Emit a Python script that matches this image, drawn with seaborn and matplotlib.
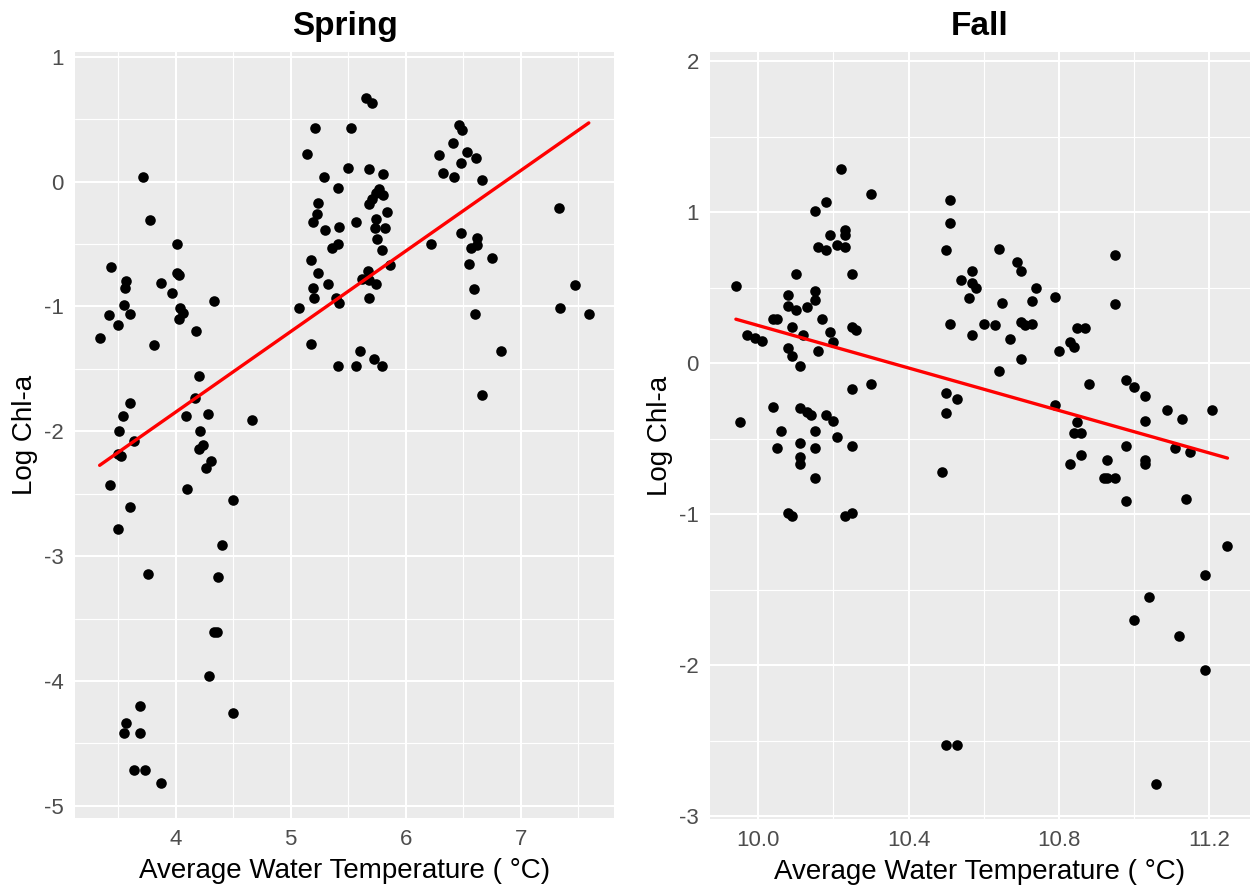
import numpy as np
import pandas as pd
import matplotlib
matplotlib.use("Agg")
import matplotlib.pyplot as plt
from matplotlib.ticker import FixedLocator
import seaborn as sns

# Spring survey: mean water temperature (°C) and log chlorophyll-a
spring_temp = [
    3.72, 3.78, 4.01, 3.44, 3.57, 3.56, 3.87, 4.01, 4.03, 3.97, 3.55, 3.42, 3.60,
    3.50, 3.34, 3.81, 4.33, 4.04, 4.06, 4.03, 4.18, 4.20, 4.17, 4.09, 4.28, 4.66,
    3.60, 3.54, 3.51, 3.64, 3.50, 3.53, 4.21, 4.20, 4.24, 4.31, 4.26,
    3.43, 4.10, 4.50, 3.60, 3.50, 4.40, 3.76, 4.37, 4.33, 4.36, 4.29, 3.69, 4.50,
    3.57, 3.55, 3.69, 3.64, 3.73, 3.87,
    5.65, 5.71, 5.21, 5.52, 5.14, 5.50, 5.68, 5.80, 5.29, 5.41, 5.77, 5.74, 5.80,
    5.71, 5.68, 5.24, 5.84, 5.23, 5.19, 5.57, 5.74, 5.73, 5.82, 5.30, 5.42, 5.75,
    5.41, 5.36, 5.79, 5.18, 5.86, 5.24, 5.67, 5.62, 5.68, 5.32, 5.74, 5.19, 5.20,
    5.39, 5.68, 5.42, 5.07, 5.18, 5.60, 5.72, 5.41, 5.57, 5.79,
    6.46, 6.49, 6.41, 6.29, 6.53, 6.61, 6.48, 6.32, 6.42, 6.66, 7.33, 6.48, 6.22,
    6.62, 6.62, 6.57, 6.75, 6.55, 6.59, 7.47, 7.34, 7.59, 6.60, 6.83, 6.66,
]
spring_chla = [
    0.04, -0.31, -0.50, -0.68, -0.80, -0.85, -0.81, -0.73, -0.75, -0.89, -0.99, -1.07, -1.06,
    -1.15, -1.25, -1.31, -0.96, -1.01, -1.05, -1.10, -1.20, -1.56, -1.73, -1.88, -1.86, -1.91,
    -1.77, -1.88, -2.00, -2.08, -2.18, -2.20, -2.00, -2.14, -2.11, -2.24, -2.29,
    -2.43, -2.46, -2.55, -2.61, -2.78, -2.91, -3.14, -3.17, -3.61, -3.61, -3.96, -4.20, -4.26,
    -4.34, -4.42, -4.42, -4.71, -4.71, -4.82,
    0.67, 0.63, 0.43, 0.43, 0.22, 0.11, 0.10, 0.06, 0.04, -0.05, -0.06, -0.09, -0.11,
    -0.14, -0.18, -0.17, -0.24, -0.26, -0.32, -0.32, -0.30, -0.37, -0.37, -0.39, -0.36, -0.46,
    -0.50, -0.53, -0.55, -0.63, -0.67, -0.73, -0.72, -0.78, -0.79, -0.82, -0.82, -0.85, -0.93,
    -0.93, -0.93, -0.97, -1.01, -1.30, -1.36, -1.42, -1.48, -1.48, -1.48,
    0.45, 0.41, 0.31, 0.21, 0.24, 0.19, 0.15, 0.07, 0.04, 0.01, -0.21, -0.41, -0.50,
    -0.45, -0.51, -0.53, -0.61, -0.66, -0.86, -0.83, -1.01, -1.06, -1.06, -1.36, -1.71,
]

# Fall survey
fall_temp = [
    10.22, 10.30, 10.18, 10.15, 10.19, 10.23, 10.23, 10.16, 10.18, 10.21, 10.23, 10.10,
    10.25, 9.94, 10.08, 10.15, 10.08, 10.15, 10.10, 10.13, 10.04, 10.05, 10.17, 10.09,
    10.19, 10.25, 10.26, 9.97, 9.99, 10.01, 10.12, 10.20, 10.08, 10.09, 10.16, 10.11,
    10.30, 10.25, 10.04, 9.95, 10.11, 10.13, 10.14, 10.18, 10.20, 10.06, 10.15, 10.21,
    10.11, 10.05, 10.15, 10.25, 10.11, 10.11, 10.15, 10.08, 10.09, 10.23, 10.25,
    10.51, 10.51, 10.50, 10.64, 10.69, 10.70, 10.95, 10.57, 10.54, 10.57, 10.58, 10.56,
    10.74, 10.79, 10.65, 10.73, 10.95, 10.51, 10.60, 10.63, 10.70, 10.71, 10.73, 10.57,
    10.67, 10.85, 10.87, 10.83, 10.84, 10.80, 10.70, 10.64,
    10.50, 10.53, 10.50, 10.49, 10.79, 10.88, 10.98, 11.00, 11.03, 11.09, 11.13, 11.21,
    11.03, 10.85, 10.84, 10.86, 10.98, 11.11, 11.15, 10.86, 10.83, 10.93, 11.03, 11.03,
    10.92, 10.93, 10.95, 10.98, 11.14,
    11.25, 11.19, 11.04, 11.00, 11.12, 11.19, 10.50, 10.53, 11.06,
]
fall_chla = [
    1.29, 1.12, 1.07, 1.01, 0.85, 0.88, 0.85, 0.77, 0.75, 0.78, 0.77, 0.59,
    0.59, 0.51, 0.45, 0.48, 0.38, 0.42, 0.35, 0.37, 0.29, 0.29, 0.29, 0.24,
    0.21, 0.24, 0.22, 0.19, 0.17, 0.15, 0.19, 0.14, 0.10, 0.05, 0.08, -0.02,
    -0.14, -0.17, -0.29, -0.39, -0.30, -0.32, -0.34, -0.34, -0.38, -0.45, -0.45, -0.49,
    -0.53, -0.56, -0.56, -0.55, -0.62, -0.67, -0.76, -0.99, -1.01, -1.01, -0.99,
    1.08, 0.93, 0.75, 0.76, 0.67, 0.61, 0.72, 0.61, 0.55, 0.53, 0.50, 0.43,
    0.50, 0.44, 0.40, 0.41, 0.39, 0.26, 0.26, 0.25, 0.27, 0.25, 0.26, 0.19,
    0.16, 0.23, 0.23, 0.14, 0.11, 0.08, 0.03, -0.05,
    -0.20, -0.24, -0.33, -0.72, -0.28, -0.14, -0.11, -0.16, -0.22, -0.31, -0.37, -0.31,
    -0.38, -0.39, -0.46, -0.46, -0.55, -0.56, -0.59, -0.61, -0.67, -0.64, -0.64, -0.67,
    -0.76, -0.76, -0.76, -0.91, -0.90,
    -1.21, -1.40, -1.55, -1.70, -1.81, -2.03, -2.53, -2.53, -2.79,
]

seasons = ["Spring", "Fall"]
x_label = "Average Water Temperature ( °C)"
y_label = "Log Chl-a"

sns.set_theme(style="darkgrid")
plt.rcParams["font.family"] = ["Liberation Sans", "DejaVu Sans"]
plt.rcParams["axes.unicode_minus"] = False

spring = pd.DataFrame({"temp": spring_temp, "chla": spring_chla})
fall = pd.DataFrame({"temp": fall_temp, "chla": fall_chla})

fig = plt.figure(figsize=(12.56, 8.88), dpi=100)
ax_s = fig.add_axes([75 / 1256, 1 - 818 / 888, 539 / 1256, 766 / 888])
ax_f = fig.add_axes([710 / 1256, 1 - 819 / 888, 540 / 1256, 767 / 888])

panels = [
    (ax_s, spring, seasons[0], (3.126, 7.809), (-5.097, 1.038),
     [4, 5, 6, 7], [3.5, 4.5, 5.5, 6.5, 7.5], [-5, -4, -3, -2, -1, 0, 1],
     [-4.5, -3.5, -2.5, -1.5, -0.5, 0.5], "{:.0f}"),
    (ax_f, fall, seasons[1], (9.871, 11.31), (-3.02, 2.062),
     [10.0, 10.4, 10.8, 11.2], [10.2, 10.6, 11.0], [-3, -2, -1, 0, 1, 2],
     [-2.5, -1.5, -0.5, 0.5, 1.5], "{:.1f}"),
]

for ax, df, title, xlim, ylim, xmaj, xmin, ymaj, ymin, xfmt in panels:
    ax.set_facecolor("#EBEBEB")
    sns.regplot(
        data=df, x="temp", y="chla", ax=ax, ci=None, truncate=True,
        scatter_kws=dict(s=58, color="black", linewidths=0, alpha=1, zorder=3),
        line_kws=dict(color="#FF0000", lw=2.4, zorder=4),
    )
    ax.set_xlim(*xlim)
    ax.set_ylim(*ylim)
    ax.xaxis.set_major_locator(FixedLocator(xmaj))
    ax.xaxis.set_minor_locator(FixedLocator(xmin))
    ax.yaxis.set_major_locator(FixedLocator(ymaj))
    ax.yaxis.set_minor_locator(FixedLocator(ymin))
    ax.set_xticklabels([xfmt.format(v) for v in xmaj])
    ax.set_yticklabels([f"{v:.0f}" for v in ymaj])
    ax.grid(which="major", color="white", lw=1.5)
    ax.grid(which="minor", color="white", lw=0.8)
    ax.set_axisbelow(True)
    for sp in ax.spines.values():
        sp.set_visible(False)
    ax.tick_params(which="major", length=5, width=1.0, color="#333333",
                   labelsize=16, labelcolor="#4D4D4D", pad=3)
    ax.tick_params(which="minor", length=0)
    ax.set_title(title, fontsize=24, fontweight="bold", color="black", pad=12)
    ax.set_xlabel(x_label, fontsize=20, color="black", labelpad=6)
    ax.set_ylabel(y_label, fontsize=20, color="black", labelpad=4)

fig.savefig("out.png", dpi=100)
